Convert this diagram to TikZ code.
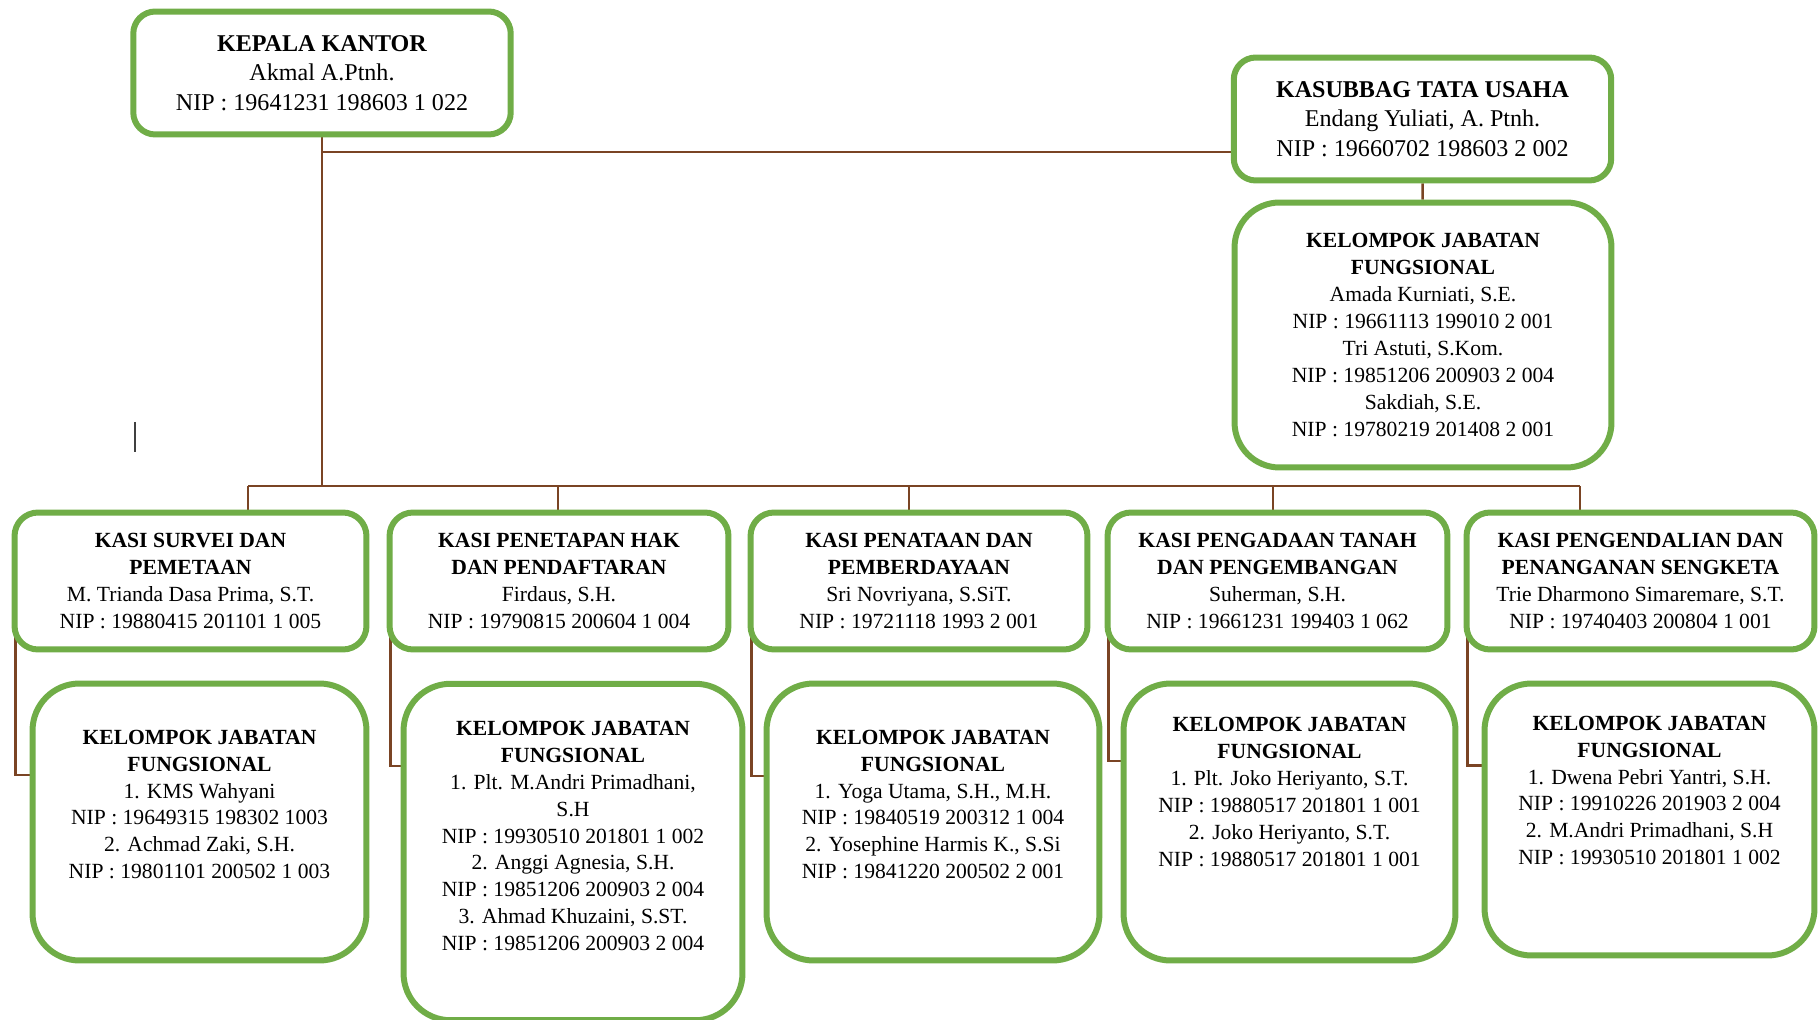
\documentclass[tikz,border=0pt]{standalone}
\usepackage{fontspec}
\setmainfont{Liberation Serif}
\usetikzlibrary{calc,backgrounds}
\definecolor{boxgreen}{RGB}{112,173,71}
\definecolor{linkbrown}{RGB}{122,68,36}

\begin{document}
\begin{tikzpicture}[x=0.02cm, y=-0.02cm]
    \tikzstyle{every node}+=[inner sep=0pt]
    \tikzstyle{box}=[draw=boxgreen, line width=0.12cm, fill=white, align=center, rounded corners=0.47cm, font=\fontsize{12.3}{15.4}\selectfont]
    \tikzstyle{headbox}=[box, minimum width=7.55cm, minimum height=2.46cm, rounded corners=0.44cm, font=\fontsize{13.7}{16.8}\selectfont]
    \tikzstyle{kasibox}=[box, minimum height=2.74cm]
    \tikzstyle{groupbox}=[box, rounded corners=0.94cm]
    \tikzstyle{grouptext}=[align=center, font=\fontsize{12.3}{15.3}\selectfont]
    \tikzstyle{link}=[draw=linkbrown, line width=1.4pt]
    \useasboundingbox (0,0) rectangle (1819,1020);
    % top row
    \node[headbox] (kepala) at (322,73) {\textbf{KEPALA KANTOR}\\Akmal A.Ptnh.\\NIP : 19641231 198603 1 022};
    \node[headbox] (tatausaha) at (1422.5,119) {\textbf{KASUBBAG TATA USAHA}\\Endang Yuliati, A. Ptnh.\\NIP : 19660702 198603 2 002};
    \node[groupbox, minimum width=7.54cm, minimum height=5.3cm, rounded corners=0.9cm] (jftu) at (1423,335) {\textbf{KELOMPOK JABATAN}\\\textbf{FUNGSIONAL}\\Amada Kurniati, S.E.\\NIP : 19661113 199010 2 001\\Tri Astuti, S.Kom.\\NIP : 19851206 200903 2 004\\Sakdiah, S.E.\\NIP : 19780219 201408 2 001};
    % kasi
    \node[kasibox, minimum width=7.04cm] (survei) at (190.5,581) {\textbf{KASI SURVEI DAN}\\\textbf{PEMETAAN}\\M. Trianda Dasa Prima, S.T.\\NIP : 19880415 201101 1 005};
    \node[kasibox, minimum width=6.78cm] (penetapan) at (559,581) {\textbf{KASI PENETAPAN HAK}\\\textbf{DAN PENDAFTARAN}\\Firdaus, S.H.\\NIP : 19790815 200604 1 004};
    \node[kasibox, minimum width=6.74cm] (penataan) at (919,581) {\textbf{KASI PENATAAN DAN}\\\textbf{PEMBERDAYAAN}\\Sri Novriyana, S.SiT.\\NIP : 19721118 1993 2 001};
    \node[kasibox, minimum width=6.8cm] (pengadaan) at (1277.5,581) {\textbf{KASI PENGADAAN TANAH}\\\textbf{DAN PENGEMBANGAN}\\Suherman, S.H.\\NIP : 19661231 199403 1 062};
    \node[kasibox, minimum width=6.96cm] (pengendalian) at (1640.5,581) {\textbf{KASI PENGENDALIAN DAN}\\\textbf{PENANGANAN SENGKETA}\\Trie Dharmono Simaremare, S.T.\\NIP : 19740403 200804 1 001};
    % kelompok jabatan fungsional
    \node[groupbox, minimum width=6.68cm, minimum height=5.54cm] (jfsurvei) at (199.5,822) {};
    \node[grouptext] (jfsurveitxt) at ($(jfsurvei)+(0,-17.5)$) {\textbf{KELOMPOK JABATAN}\\\textbf{FUNGSIONAL}\\1. KMS Wahyani\\NIP : 19649315 198302 1003\\2. Achmad Zaki, S.H.\\NIP : 19801101 200502 1 003};
    \node[groupbox, minimum width=6.78cm, minimum height=6.73cm] (jfpenetapan) at (573,852) {};
    \node[grouptext] (jfpenetapantxt) at ($(jfpenetapan)+(0,-16)$) {\textbf{KELOMPOK JABATAN}\\\textbf{FUNGSIONAL}\\1. Plt. M.Andri Primadhani,\\S.H\\NIP : 19930510 201801 1 002\\2. Anggi Agnesia, S.H.\\NIP : 19851206 200903 2 004\\3. Ahmad Khuzaini, S.ST.\\NIP : 19851206 200903 2 004};
    \node[groupbox, minimum width=6.66cm, minimum height=5.54cm] (jfpenataan) at (933,822) {};
    \node[grouptext] (jfpenataantxt) at ($(jfpenataan)+(0,-17.5)$) {\textbf{KELOMPOK JABATAN}\\\textbf{FUNGSIONAL}\\1. Yoga Utama, S.H., M.H.\\NIP : 19840519 200312 1 004\\2. Yosephine Harmis K., S.Si\\NIP : 19841220 200502 2 001};
    \node[groupbox, minimum width=6.64cm, minimum height=5.54cm] (jfpengadaan) at (1289.5,822) {};
    \node[grouptext] (jfpengadaantxt) at ($(jfpengadaan)+(0,-30)$) {\textbf{KELOMPOK JABATAN}\\\textbf{FUNGSIONAL}\\1. Plt. Joko Heriyanto, S.T.\\NIP : 19880517 201801 1 001\\2. Joko Heriyanto, S.T.\\NIP : 19880517 201801 1 001};
    \node[groupbox, minimum width=6.6cm, minimum height=5.44cm] (jfpengendalian) at (1649.5,819.5) {};
    \node[grouptext] (jfpengendaliantxt) at ($(jfpengendalian)+(0,-29)$) {\textbf{KELOMPOK JABATAN}\\\textbf{FUNGSIONAL}\\1. Dwena Pebri Yantri, S.H.\\NIP : 19910226 201903 2 004\\2. M.Andri Primadhani, S.H\\NIP : 19930510 201801 1 002};
    % cursor mark
    \draw[line width=0.8pt, black!75] (135,422) -- (135,452);
    % connectors
    \begin{scope}[on background layer]
        \coordinate (tu) at (0,152);
        \coordinate (d1) at (248,486);
        \coordinate (d2) at (558,486);
        \coordinate (d3) at (909,486);
        \coordinate (d4) at (1273,486);
        \coordinate (d5) at (1580,486);
        \draw[link] (kepala) |- (tatausaha.west |- tu);
        \draw[link] (kepala) -- (kepala |- d1);
        \draw[link] (tatausaha) -- (jftu);
        \draw[link] (d1) -- (d5);
        \draw[link] (d1) -- (d1 |- survei);
        \draw[link] (d2) -- (d2 |- penetapan);
        \draw[link] (d3) -- (d3 |- penataan);
        \draw[link] (d4) -- (d4 |- pengadaan);
        \draw[link] (d5) -- (d5 |- pengendalian);
        \draw[link] ($(survei.west)+(4,0)$) |- ($(jfsurvei.west)+(0,-47)$);
        \draw[link] ($(penetapan.west)+(4,0)$) |- ($(jfpenetapan.west)+(0,-86)$);
        \draw[link] ($(penataan.west)+(4,0)$) |- ($(jfpenataan.west)+(0,-46)$);
        \draw[link] ($(pengadaan.west)+(4,0)$) |- ($(jfpengadaan.west)+(0,-61)$);
        \draw[link] ($(pengendalian.west)+(4,0)$) |- ($(jfpengendalian.west)+(0,-54)$);
    \end{scope}
\end{tikzpicture}
\end{document}
